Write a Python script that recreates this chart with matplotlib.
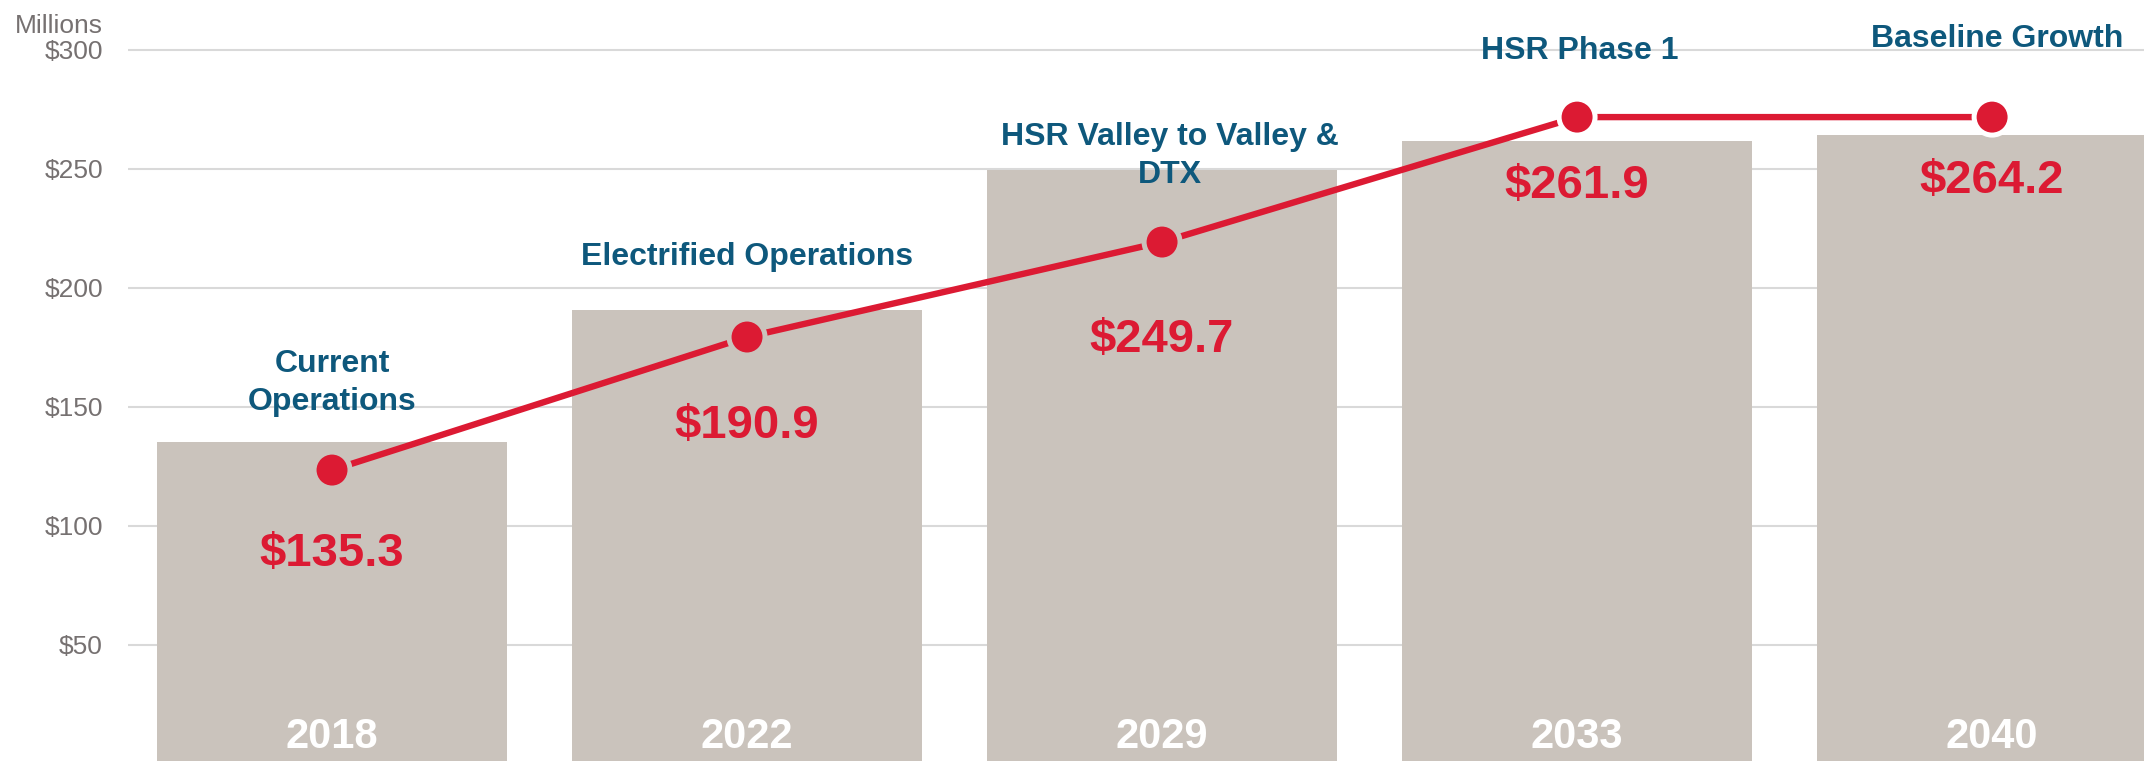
import matplotlib
matplotlib.use("Agg")
from matplotlib import pyplot as plt
from matplotlib.transforms import blended_transform_factory
import numpy as np

plt.rcParams['font.family'] = ['Liberation Sans', 'DejaVu Sans']

# DATA
years = ['2018', '2022', '2029', '2033', '2040']
phases = ['Current\nOperations', 'Electrified Operations',
          'HSR Valley to Valley &\nDTX', 'HSR Phase 1', 'Baseline Growth']
bar_values = [135.3, 190.9, 249.7, 261.9, 264.2]
line_values = [123.5, 179.4, 219.3, 271.8, 271.8]
y_ticks = [50, 100, 150, 200, 250, 300]

# COLOURS
BAR = '#CAC3BC'
RED = '#DC1A33'
BLUE = '#0E587C'
GRAY = '#767171'
GRID = '#D9D9D9'

W, H = 2144, 761
fig = plt.figure(figsize=(W / 100, H / 100), dpi=100)
ax = fig.add_axes([128 / W, 0, 1 - 128 / W, 1])

x = np.arange(len(years))
ax.bar(x, bar_values, width=0.843, color=BAR, zorder=2)

# red line, markers get a ring in the colour behind them so the line looks cut
ax.plot(x, line_values, color=RED, lw=4.6, zorder=3, solid_capstyle='butt')
ring = [BAR if lv < bv else 'white' for lv, bv in zip(line_values, bar_values)]
ax.scatter(x, line_values, s=25.9 ** 2, color=RED, edgecolors=ring,
           linewidths=3.6, zorder=4)

# value labels inside the bars
value_y = [83, 137, 173, 238, 240]
for i, v in enumerate(bar_values):
    ax.text(x[i], value_y[i], f'${v:.1f}', ha='center', va='baseline',
            fontsize=34, fontweight='bold', color=RED, zorder=5)

# year labels at the foot of each bar
foot = blended_transform_factory(ax.transData, ax.transAxes)
for i, yr in enumerate(years):
    ax.text(x[i], 13 / H, yr, transform=foot, ha='center', va='baseline',
            fontsize=30, fontweight='bold', color='white', zorder=5)

# phase names above the bars
phase_pos = [(0.0, 145.8, 'bottom'), (1.0, 209.7, 'baseline'),
             (2.02, 241.2, 'bottom'), (3.007, 296.2, 'baseline'),
             (4.012, 301.3, 'baseline')]
for name, (px, py, va) in zip(phases, phase_pos):
    ax.text(px, py, name, ha='center', va=va, fontsize=23, fontweight='bold',
            color=BLUE, linespacing=1.35, zorder=5, clip_on=False)

ax.set_xlim(-0.4916, 4.366)
ax.set_ylim(1.26, 321.0)
ax.set_yticks(y_ticks)
ax.set_yticklabels([f'${v}' for v in y_ticks])
ax.set_xticks([])
ax.tick_params(axis='y', length=0, pad=18, labelsize=19, labelcolor=GRAY)
ax.yaxis.grid(True, color=GRID, lw=1.5, zorder=0)
ax.set_axisbelow(True)
for s in ax.spines.values():
    s.set_visible(False)

fig.text(103 / W, 1 - 33 / H, 'Millions', ha='right', va='baseline',
         fontsize=19, color=GRAY)

fig.savefig('out.png', dpi=100)
